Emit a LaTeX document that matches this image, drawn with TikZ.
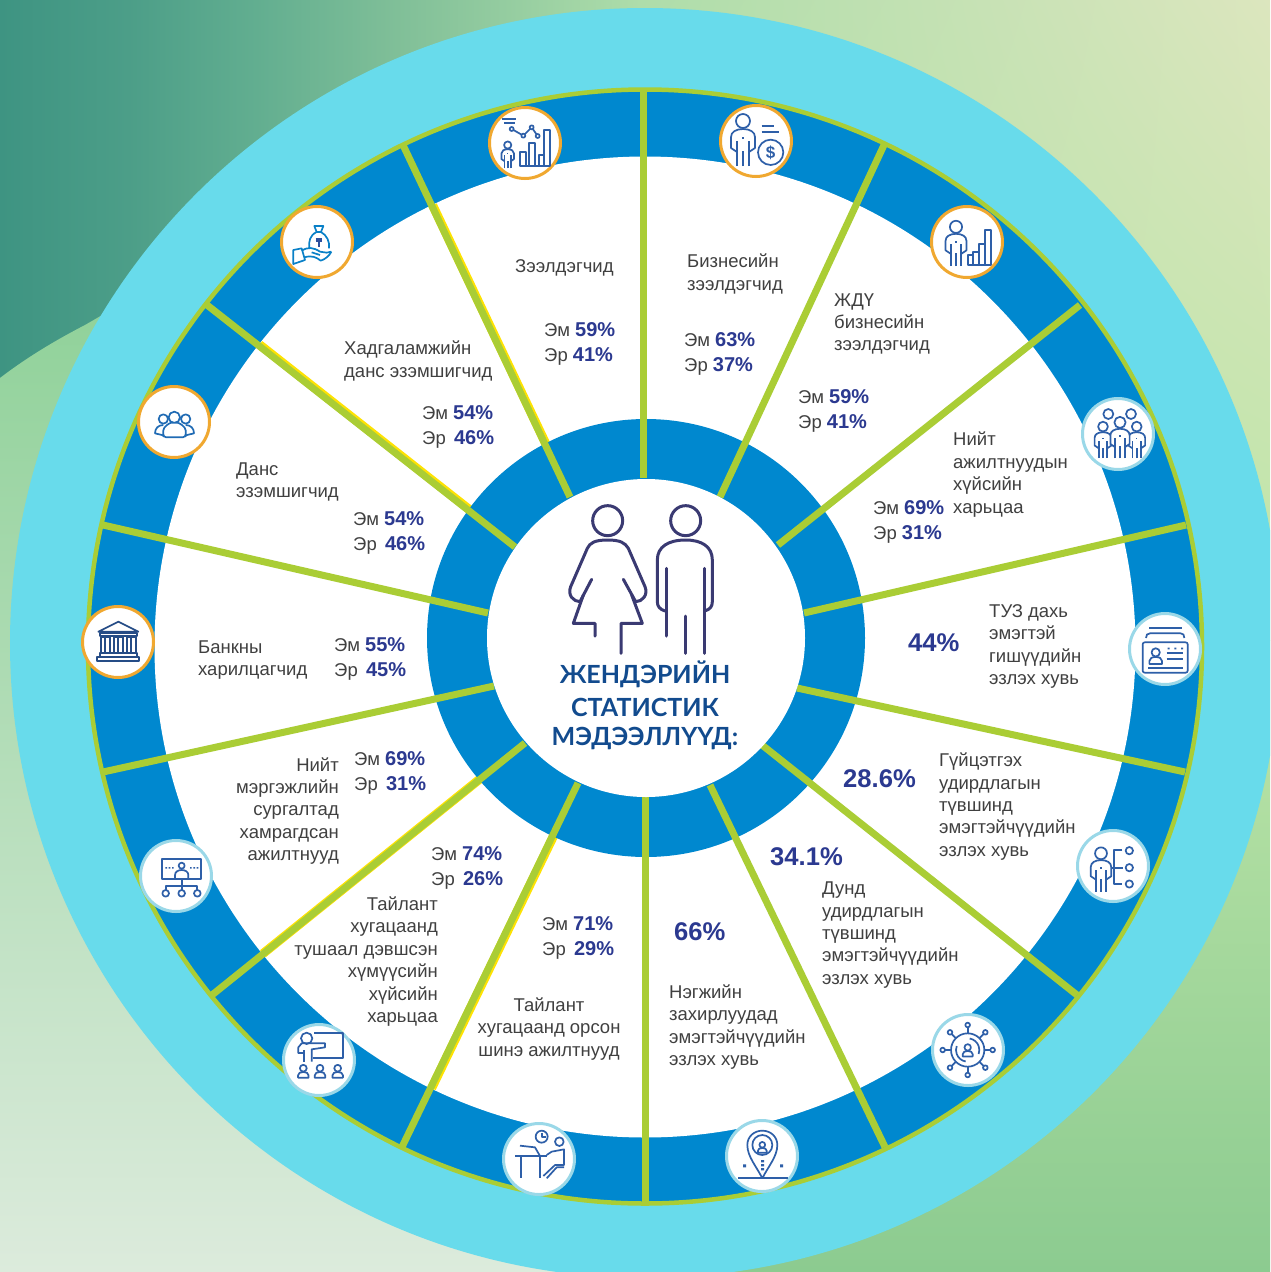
\documentclass[tikz,border=0pt]{standalone}
\usepackage{fontspec}
\setmainfont{Liberation Sans}
\newfontfamily\titlefont{Lato}
\usetikzlibrary{calc,shadings}
\definecolor{cyanring}{HTML}{68DBEB}
\definecolor{greenring}{HTML}{AACD35}
\definecolor{bluering}{HTML}{0088CF}
\definecolor{pct}{HTML}{2B3990}
\definecolor{bodytxt}{HTML}{404040}
\definecolor{iconc}{HTML}{2E5FA8}
\definecolor{navyfig}{HTML}{3A3A72}
\definecolor{titlec}{HTML}{124B8E}
\definecolor{orangeb}{HTML}{F0A830}
\definecolor{lightb}{HTML}{9AD8E8}
\definecolor{teal1}{HTML}{3E9482}
\definecolor{teal2}{HTML}{4C9E88}
\definecolor{teal3}{HTML}{62AE90}
\definecolor{teal4}{HTML}{80BF98}
\definecolor{teal5}{HTML}{AEDDAA}
\definecolor{bgtr}{HTML}{DCE6BE}
\definecolor{bgr}{HTML}{BDE5A8}
\definecolor{bgbr}{HTML}{8CCB90}
\definecolor{bgl}{HTML}{8CD096}
\definecolor{bgbl}{HTML}{DCEBDC}
\pgfdeclarehorizontalshading{tlbg}{100bp}{color(0bp)=(teal1);color(25bp)=(teal1);color(35bp)=(teal2);color(45bp)=(teal3);color(56bp)=(teal4);color(75bp)=(teal5);color(100bp)=(teal5)}
\newcommand{\pc}[1]{{\fontsize{20}{22}\selectfont\bfseries\color{pct}#1}}
\tikzset{
 txt/.style={font=\fontsize{18.5}{22.4}\selectfont,text=bodytxt,inner sep=0pt,align=left,anchor=west,yshift=-1.5pt},
 txtp/.style={txt,font=\fontsize{18.5}{25}\selectfont},
 txtr/.style={txt,align=right,anchor=east},
 txtc/.style={txt,align=center,anchor=center},
 bigp/.style={inner sep=0pt,anchor=west,text=pct,font=\fontsize{25.6}{28}\selectfont\bfseries},
 titletxt/.style={inner sep=0pt,text=titlec,font=\titlefont\fontsize{25}{30}\selectfont\bfseries},
 spoke/.style={draw=greenring,line width=7pt},
 hl/.style={draw=yellow!85!orange,line width=9pt},
 badgeo/.style={circle,draw=orangeb,line width=3pt,fill=white,minimum size=71pt,inner sep=0pt},
 badgel/.style={circle,draw=lightb,line width=3pt,fill=white,minimum size=71pt,inner sep=0pt},
 ic/.style={draw=iconc,line width=1.7pt,line join=round},
 fig/.style={draw=navyfig,line width=3pt,line cap=round,line join=round},
 zoomed/.style={shift={#1},scale=1/3},
 persona/.pic={
  \draw[ic,fill=white] (-6,9) -- (-12,5) -- (-12,-6) .. controls (-12,-11) and (-7,-14) .. (0,-14) .. controls (7,-14) and (12,-11) .. (12,-6) -- (12,5) -- (6,9);
  \draw[ic,fill=white] (0,-22) circle (7);
  \draw[ic] (-6,23) -- (-6,-2) (6,23) -- (6,-2) (0,23) -- (0,8);
  \fill[iconc] (-1,-6) rectangle (1,-4);
 },
 bust/.pic={
  \draw[ic] (0,-4) circle (3.6);
  \draw[ic] (-5.5,6) -- (-5.5,3.5) .. controls (-5.5,1) and (-3,0) .. (0,0) .. controls (3,0) and (5.5,1) .. (5.5,3.5) -- (5.5,6) -- cycle;
 },
}
\begin{document}
\begin{tikzpicture}[x=1pt,y=-1pt]
\useasboundingbox (0,0) rectangle (1270,1272);
\clip (0,0) rectangle (1270,1272);
% background
\shade[shading=tlbg] (0,0) rectangle (640,640);
\shade[upper left=teal5,upper right=bgtr,lower left=bgr,lower right=bgr] (640,0) rectangle (1270,640);
\shade[upper left=bgr,upper right=bgr,lower left=bgbr,lower right=bgbr] (640,640) rectangle (1270,1272);
\shade[top color=bgl,bottom color=bgbl] (0,378) .. controls (30,355) and (60,338) .. (85,325) .. controls (120,305) and (160,280) .. (200,250) -- (640,250) -- (640,1272) -- (0,1272) -- cycle;
% rings
\fill[cyanring] (645,643) circle (635);
\draw[greenring,line width=4.5pt,fill=bluering] (645,646.5) circle (557);
\fill[white] (645,647) circle (490.5);
% spoke end points
\foreach \n/\a/\b/\c/\d in {1/643/90/643/478,2/884/145/720/497,3/1080/305/778/545,4/1186/525/804/613,5/1185/772/797/688,6/1077/995/762/745,7/885/1147/710/785,8/645/1204/645/797,9/402/1147/578/783,10/212/995/525/743,11/103/772/494/686,12/103/525/488/613,13/207/305/515/547,14/403/145/570/497}{
  \coordinate (o\n) at (\a,\b);
  \coordinate (i\n) at (\c,\d);
}
\begin{scope}
\clip (645,647) circle (490);
\draw[hl] ($(o14)+(1.3,.5)$) -- ($(i14)+(1.3,.5)$);
\draw[hl] ($(o13)+(.8,-1)$) -- ($(i13)+(.8,-1)$);
\draw[hl] ($(o9)+(1.3,-.3)$) -- ($(i9)+(1.3,-.3)$);
\draw[hl] ($(o10)+(.8,-1)$) -- ($(i10)+(.8,-1)$);
\end{scope}
\fill[bluering] (646,638) circle (219);
\foreach \n in {1,...,14}{\draw[spoke] (o\n) -- (i\n);}
\fill[white] (646,638) circle (159);
% centre figures
\begin{scope}[zoomed={(480,480)}]
 \draw[fig] (383,122) circle (45);
 \draw[fig] (335,298) -- (300,365) .. controls (280,365) and (262,345) .. (272,320) -- (322,205) .. controls (330,188) and (345,180) .. (383,180) .. controls (420,180) and (435,188) .. (445,205) -- (495,320) .. controls (505,345) and (487,365) .. (467,365) -- (430,298);
 \draw[fig] (310,345) -- (280,430) -- (345,430) -- (345,468);
 \draw[fig] (455,345) -- (487,430) -- (423,430) -- (423,520);
 \draw[fig] (617,122) circle (45);
 \draw[fig] (555,393) .. controls (540,388) and (532,380) .. (532,365) -- (532,240) .. controls (532,200) and (565,180) .. (617,180) .. controls (665,180) and (697,200) .. (697,240) -- (697,365) .. controls (697,380) and (690,388) .. (674,393);
 \draw[fig] (558,265) -- (558,468) (672,265) -- (672,520) (615,408) -- (615,520);
\end{scope}
\node[titletxt] (title1) at (645,674) {ЖЕНДЭРИЙН};
\node[titletxt] (title2) at (645,707) {СТАТИСТИК};
\node[titletxt] (title3) at (645,739) {МЭДЭЭЛЛҮҮД:};
% badges
\node[badgeo] (b1) at (525,143) {};
\node[badgeo] (b2) at (756,141) {};
\node[badgeo] (b3) at (967,242) {};
\node[badgel] (b4) at (1118,434) {};
\node[badgel] (b5) at (1165,649) {};
\node[badgel] (b6) at (1113,866) {};
\node[badgel] (b7) at (968,1050) {};
\node[badgel] (b8) at (762,1156) {};
\node[badgel] (b9) at (539,1159) {};
\node[badgel] (b10) at (319,1060) {};
\node[badgel] (b11) at (176,876) {};
\node[badgeo] (b12) at (118,642) {};
\node[badgeo] (b13) at (174,422) {};
\node[badgeo] (b14) at (317,242) {};
% icon 1
\begin{scope}[zoomed={(460,90)}]
 \draw[ic] (125,87) -- (168,87) (132,100) -- (165,100);
 \draw[ic] (155,117) -- (190,137) -- (215,112) -- (233,138);
 \foreach \p in {(155,117),(190,137),(215,112),(233,138)}{\draw[ic,fill=white] \p circle (6);}
 \draw[ic] (180,228) -- (270,228);
 \draw[ic] (180,185) rectangle (198,228) (208,160) rectangle (225,228) (238,195) rectangle (253,228) (253,120) rectangle (270,228);
\end{scope}
\pic[scale=.52] at (507.7,156.5) {persona};
% icon 2
\pic at (743,143) {persona};
\begin{scope}[zoomed={(460,90)}]
 \draw[ic] (905,107) -- (943,107) (905,127) -- (957,127);
 \draw[ic,fill=white] (932,187) circle (38);
 \node[text=iconc,font=\fontsize{17}{17}\selectfont\bfseries,inner sep=0pt] (dollar) at (932,187) {\$};
\end{scope}
% icon 3
\pic[scale=.87] at (956,246) {persona};
\begin{scope}[zoomed={(920,195)}]
 \draw[ic] (143,180) rectangle (160,210) (160,170) rectangle (177,210) (177,148) rectangle (195,210) (195,105) rectangle (213,210);
\end{scope}
% icon 4
\begin{scope}[zoomed={(1060,390)}]
 \draw[ic] (145,72) circle (15) (213,72) circle (15);
\end{scope}
\pic[scale=.7] at (1103,442) {persona};
\pic[scale=.7] at (1136.7,442) {persona};
\pic[scale=.8] at (1120,440) {persona};
% icon 5
\begin{scope}[zoomed={(1060,390)}]
 \draw[ic,rounded corners=2pt] (248,757) rectangle (383,848);
 \draw[ic] (258,744) .. controls (258,735) and (262,730) .. (270,730) -- (362,730) .. controls (370,730) and (373,735) .. (373,744);
 \draw[ic] (268,715) -- (365,715);
 \draw[ic] (320,790) -- (368,790) (320,808) -- (368,808) (265,835) -- (368,835);
 \fill[iconc] (323,773) rectangle (329,778) (343,773) rectangle (349,778) (363,773) rectangle (369,778);
\end{scope}
\pic[scale=1.15] at (1155.7,657) {bust};
% icon 6
\pic[scale=.85] at (1101,872) {persona};
\begin{scope}[zoomed={(920,820)}]
 \draw[ic] (607,90) -- (583,90) -- (583,192) -- (607,192) (572,143) -- (610,143);
 \draw[ic] (628,92) circle (11) (628,143) circle (11) (628,192) circle (11);
\end{scope}
% icon 7
\begin{scope}[zoomed={(920,820)}]
 \draw[ic] (143,690) circle (50);
 \foreach \t in {0,45,...,315}{
  \draw[ic] ($(143,690)+(\t:50)$) -- ($(143,690)+(\t:68)$);
  \draw[ic,fill=white] ($(143,690)+(\t:75)$) circle (7);
 }
 \draw[ic] ($(143,690)+(100:35)$) arc[start angle=100,end angle=200,radius=35];
 \draw[ic] ($(143,690)+(-80:35)$) arc[start angle=-80,end angle=20,radius=35];
\end{scope}
\pic[scale=.9] at (967.7,1051) {bust};
% icon 8
\begin{scope}[zoomed={(490,1110)}]
 \draw[ic] (817,205) .. controls (800,170) and (772,140) .. (772,105) .. controls (772,80) and (792,62) .. (817,62) .. controls (842,62) and (862,80) .. (862,105) .. controls (862,140) and (834,170) .. (817,205);
 \draw[ic] (817,105) circle (30);
 \draw[ic] (745,205) -- (893,205);
 \fill[iconc] (759,163) rectangle (768,172) (870,163) rectangle (879,172) (813,150) rectangle (822,157) (813,162) rectangle (822,169) (813,174) rectangle (822,181);
\end{scope}
\pic[scale=.8] at (762.3,1148) {bust};
% icon 9
\begin{scope}[zoomed={(490,1110)}]
 \draw[ic] (155,80) circle (18);
 \draw[ic] (155,68) -- (155,82) -- (167,82);
 \draw[ic] (208,95) circle (13);
 \draw[ic] (75,138) -- (170,138) (93,138) -- (93,205) (150,138) -- (150,205);
 \draw[ic] (90,107) -- (135,112) -- (150,138);
 \draw[ic] (170,135) -- (185,125) -- (222,118) -- (222,165) -- (195,165) -- (160,198);
 \draw[ic] (170,205) -- (200,172) -- (222,172);
\end{scope}
% icon 10
\begin{scope}[zoomed={(270,1010)}]
 \draw[ic] (110,85) circle (17);
 \draw[ic] (133,68) -- (218,68) -- (218,145) -- (130,145);
 \draw[ic] (85,130) -- (85,112) -- (95,100) -- (165,100) -- (165,112) -- (125,118) -- (125,155);
 \draw[ic] (85,130) -- (100,130) (103,120) -- (103,155);
\end{scope}
\pic[scale=.95] at (303.3,1072) {bust};
\pic[scale=.95] at (320,1072) {bust};
\pic[scale=.95] at (337.7,1072) {bust};
% icon 11
\begin{scope}[zoomed={(70,600)}]
 \draw[ic] (277,778) rectangle (392,838);
 \draw[ic] (335,797) circle (9);
 \draw[ic] (315,835) -- (315,825) .. controls (315,815) and (325,810) .. (335,810) .. controls (345,810) and (355,815) .. (355,825) -- (355,835);
 \draw[ic] (335,838) -- (335,870) (287,870) -- (287,858) -- (382,858) -- (382,870);
 \draw[ic] (287,880) circle (10) (335,880) circle (10) (382,880) circle (10);
 \fill[iconc] (286,801) rectangle (291,806) (296,801) rectangle (301,806) (306,801) rectangle (311,806) (360,801) rectangle (365,806) (370,801) rectangle (375,806) (380,801) rectangle (385,806);
\end{scope}
% icon 12
\begin{scope}[zoomed={(70,600)}]
 \draw[ic,draw=iconc!80!black] (85,95) -- (145,65) -- (205,95) -- cycle;
 \draw[ic,draw=iconc!80!black] (90,100) rectangle (200,108) (90,160) rectangle (200,170) (82,172) rectangle (207,182);
 \draw[ic,draw=iconc!80!black] (93,112) rectangle (120,158) (132,112) rectangle (158,158) (170,112) rectangle (197,158);
 \draw[ic,draw=iconc!80!black,line width=2.2pt] (106,112) -- (106,158) (145,112) -- (145,158) (183,112) -- (183,158);
\end{scope}
% icon 13
\begin{scope}[zoomed={(130,200)}]
 \draw[ic,draw=iconc!70!bluering] (100,657) circle (14) (167,657) circle (14);
 \draw[ic,draw=iconc!70!bluering] (100,675) .. controls (85,675) and (75,685) .. (75,700) -- (100,706);
 \draw[ic,draw=iconc!70!bluering] (167,675) .. controls (182,675) and (192,685) .. (192,700) -- (167,706);
 \draw[ic,draw=iconc!70!bluering,fill=white] (133,652) circle (17);
 \draw[ic,draw=iconc!70!bluering,fill=white,rounded corners=3pt] (100,712) -- (100,700) .. controls (100,680) and (120,668) .. (133,668) .. controls (147,668) and (167,680) .. (167,700) -- (167,712) -- cycle;
\end{scope}
% icon 14
\begin{scope}[zoomed={(130,200)}]
 \draw[ic,draw=bluering!80!iconc] (553,78) -- (580,78) -- (573,96) -- (560,96) -- cycle;
 \draw[ic,draw=bluering!80!iconc] (560,96) .. controls (540,105) and (535,125) .. (538,145) (573,96) .. controls (590,105) and (600,125) .. (597,145);
 \draw[ic,draw=iconc!60!pct] (557,117) -- (577,117) (557,124) -- (577,124) (567,124) -- (567,140);
 \draw[ic,draw=bluering!80!iconc] (490,150) -- (515,145) -- (525,180) -- (490,192) -- cycle;
 \draw[ic,draw=bluering!80!iconc] (515,152) .. controls (535,140) and (550,142) .. (570,155) -- (590,158) -- (604,155);
 \draw[ic,draw=bluering!80!iconc] (524,172) .. controls (545,165) and (560,172) .. (572,182) .. controls (585,178) and (598,168) .. (604,155);
 \draw[ic,draw=bluering!80!iconc] (545,157) -- (570,165);
\end{scope}
% texts
\node[txt] (a1) at (515,266) {Зээлдэгчид};
\node[txtp] (a2) at (544,342) {Эм \pc{59\%}\\Эр \pc{41\%}};
\node[txt] (b1t) at (687,272.5) {Бизнесийн\\зээлдэгчид};
\node[txtp] (b2t) at (684,352) {Эм \pc{63\%}\\Эр \pc{37\%}};
\node[txt] (c1) at (834,322.5) {ЖДҮ\\бизнесийн\\зээлдэгчид};
\node[txtp] (c2) at (798,409.5) {Эм \pc{59\%}\\Эр \pc{41\%}};
\node[txt] (d1) at (953,473) {Нийт\\ажилтнуудын\\хүйсийн\\харьцаа};
\node[txtp] (d2) at (873,520.5) {Эм \pc{69\%}\\Эр \pc{31\%}};
\node[bigp] (e2) at (908,643) {44\%};
\node[txt] (e1) at (989,645) {ТУЗ дахь\\эмэгтэй\\гишүүдийн\\эзлэх хувь};
\node[bigp] (f2) at (843,779) {28.6\%};
\node[txt] (f1) at (939,805) {Гүйцэтгэх\\удирдлагын\\түвшинд\\эмэгтэйчүүдийн\\эзлэх хувь};
\node[bigp] (g2) at (770,857) {34.1\%};
\node[txt] (g1) at (822,933.5) {Дунд\\удирдлагын\\түвшинд\\эмэгтэйчүүдийн\\эзлэх хувь};
\node[bigp] (h2) at (674,932) {66\%};
\node[txt] (h1) at (669,1025.5) {Нэгжийн\\захирлуудад\\эмэгтэйчүүдийн\\эзлэх хувь};
\node[txtp] (i2) at (542,936) {Эм \pc{71\%}\\Эр\, \pc{29\%}};
\node[txtc] (i1) at (549,1027.5) {Тайлант\\хугацаанд орсон\\шинэ ажилтнууд};
\node[txtp] (j2) at (431,866.5) {Эм \pc{74\%}\\Эр\, \pc{26\%}};
\node[txtr] (j1) at (438,960) {Тайлант\\хугацаанд\\тушаал дэвшсэн\\хүмүүсийн\\хүйсийн\\харьцаа};
\node[txtp] (k2) at (354,771) {Эм \pc{69\%}\\Эр\, \pc{31\%}};
\node[txtr] (k1) at (339,809.5) {Нийт\\мэргэжлийн\\сургалтад\\хамрагдсан\\ажилтнууд};
\node[txt] (l1) at (198,658.5) {Банкны\\харилцагчид};
\node[txtp] (l2) at (334,657) {Эм \pc{55\%}\\Эр\, \pc{45\%}};
\node[txt] (m1) at (236,480.5) {Данс\\эзэмшигчид};
\node[txtp] (m2) at (353,531) {Эм \pc{54\%}\\Эр\, \pc{46\%}};
\node[txt] (n1) at (344,359.5) {Хадгаламжийн\\данс эзэмшигчид};
\node[txtp] (n2) at (422,425) {Эм \pc{54\%}\\Эр\, \pc{46\%}};
\end{tikzpicture}
\end{document}
